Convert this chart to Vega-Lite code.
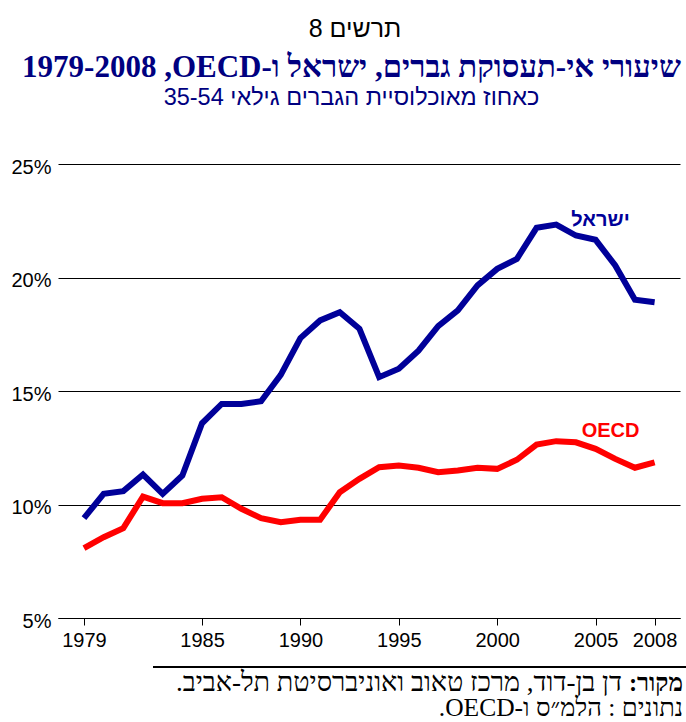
{
  "$schema": "https://vega.github.io/schema/vega-lite/v6.json",
  "padding": {"left": 10, "top": 16, "right": 0, "bottom": 0},
  "background": "white",
  "title": {"text": "\u202bתרשים 8\u202c", "font": "Liberation Sans", "fontSize": 25, "fontWeight": "normal", "color": "black", "anchor": "middle", "frame": "bounds", "offset": 10, "dx": 6},
  "spacing": 16,
  "config": {"view": {"stroke": null}, "font": "Liberation Sans"},
  "datasets": {
    "series": [
      {"year": 1979, "series": "ישראל", "value": 9.40},
      {"year": 1980, "series": "ישראל", "value": 10.47},
      {"year": 1981, "series": "ישראל", "value": 10.59},
      {"year": 1982, "series": "ישראל", "value": 11.32},
      {"year": 1983, "series": "ישראל", "value": 10.47},
      {"year": 1984, "series": "ישראל", "value": 11.28},
      {"year": 1985, "series": "ישראל", "value": 13.58},
      {"year": 1986, "series": "ישראל", "value": 14.43},
      {"year": 1987, "series": "ישראל", "value": 14.43},
      {"year": 1988, "series": "ישראל", "value": 14.55},
      {"year": 1989, "series": "ישראל", "value": 15.71},
      {"year": 1990, "series": "ישראל", "value": 17.33},
      {"year": 1991, "series": "ישראל", "value": 18.11},
      {"year": 1992, "series": "ישראל", "value": 18.47},
      {"year": 1993, "series": "ישראל", "value": 17.74},
      {"year": 1994, "series": "ישראל", "value": 15.61},
      {"year": 1995, "series": "ישראל", "value": 15.98},
      {"year": 1996, "series": "ישראל", "value": 16.78},
      {"year": 1997, "series": "ישראל", "value": 17.86},
      {"year": 1998, "series": "ישראל", "value": 18.55},
      {"year": 1999, "series": "ישראל", "value": 19.65},
      {"year": 2000, "series": "ישראל", "value": 20.38},
      {"year": 2001, "series": "ישראל", "value": 20.82},
      {"year": 2002, "series": "ישראל", "value": 22.19},
      {"year": 2003, "series": "ישראל", "value": 22.33},
      {"year": 2004, "series": "ישראל", "value": 21.85},
      {"year": 2005, "series": "ישראל", "value": 21.66},
      {"year": 2006, "series": "ישראל", "value": 20.53},
      {"year": 2007, "series": "ישראל", "value": 19.02},
      {"year": 2008, "series": "ישראל", "value": 18.91},
      {"year": 1979, "series": "OECD", "value": 8.08},
      {"year": 1980, "series": "OECD", "value": 8.56},
      {"year": 1981, "series": "OECD", "value": 8.96},
      {"year": 1982, "series": "OECD", "value": 10.35},
      {"year": 1983, "series": "OECD", "value": 10.06},
      {"year": 1984, "series": "OECD", "value": 10.06},
      {"year": 1985, "series": "OECD", "value": 10.25},
      {"year": 1986, "series": "OECD", "value": 10.32},
      {"year": 1987, "series": "OECD", "value": 9.81},
      {"year": 1988, "series": "OECD", "value": 9.40},
      {"year": 1989, "series": "OECD", "value": 9.22},
      {"year": 1990, "series": "OECD", "value": 9.33},
      {"year": 1991, "series": "OECD", "value": 9.33},
      {"year": 1992, "series": "OECD", "value": 10.54},
      {"year": 1993, "series": "OECD", "value": 11.13},
      {"year": 1994, "series": "OECD", "value": 11.64},
      {"year": 1995, "series": "OECD", "value": 11.72},
      {"year": 1996, "series": "OECD", "value": 11.62},
      {"year": 1997, "series": "OECD", "value": 11.42},
      {"year": 1998, "series": "OECD", "value": 11.50},
      {"year": 1999, "series": "OECD", "value": 11.62},
      {"year": 2000, "series": "OECD", "value": 11.57},
      {"year": 2001, "series": "OECD", "value": 11.97},
      {"year": 2002, "series": "OECD", "value": 12.64},
      {"year": 2003, "series": "OECD", "value": 12.79},
      {"year": 2004, "series": "OECD", "value": 12.74},
      {"year": 2005, "series": "OECD", "value": 12.45},
      {"year": 2006, "series": "OECD", "value": 12.01},
      {"year": 2007, "series": "OECD", "value": 11.62},
      {"year": 2008, "series": "OECD", "value": 11.86}
    ],
    "footer": [
      {"line": "1", "part": "b", "text": "מקור:\u200f"},
      {"line": "1", "part": "r", "text": "דן בן-דוד, מרכז טאוב ואוניברסיטת תל-אביב.\u200f"},
      {"line": "2", "part": "r2", "text": "\u202bנתונים : הלמ״ס ו-OECD.\u202c"}
    ]
  },
  "vconcat": [
    {
      "width": 622,
      "height": 454,
      "title": {
        "text": "\u202bשיעורי אי-תעסוקת גברים, ישראל ו-OECD\u200f, 1979-2008\u202c",
        "font": "Liberation Serif", "fontSize": 31, "fontWeight": "bold", "color": "#000080",
        "subtitle": "\u202bכאחוז מאוכלוסיית הגברים גילאי 35-54\u202c",
        "subtitleFont": "Liberation Sans", "subtitleFontSize": 23.5, "subtitleColor": "#000080",
        "subtitlePadding": 2, "anchor": "middle", "frame": "bounds", "offset": 47, "dx": 6
      },
      "layer": [
        {
          "data": {"name": "series"},
          "mark": {"type": "line", "strokeWidth": 6, "strokeJoin": "miter", "clip": false},
          "encoding": {
            "x": {
              "field": "year", "type": "quantitative",
              "scale": {"domain": [1977.68, 2009.29], "nice": false, "zero": false},
              "axis": {
                "values": [1979, 1985, 1990, 1995, 2000, 2005, 2008], "format": "d", "title": null,
                "grid": false, "domain": true, "domainColor": "black", "domainWidth": 1,
                "ticks": true, "tickColor": "black", "tickSize": 7, "tickWidth": 1,
                "labelFont": "Liberation Sans", "labelFontSize": 20, "labelColor": "black",
                "labelPadding": 5, "labelFlush": false, "labelOverlap": false
              }
            },
            "y": {
              "field": "value", "type": "quantitative",
              "scale": {"domain": [5, 25], "nice": false, "zero": false},
              "axis": {
                "values": [5, 10, 15, 20, 25], "labelExpr": "datum.value + '%'", "title": null,
                "grid": true, "gridColor": "black", "gridWidth": 1, "gridOpacity": 1,
                "domain": false, "ticks": false, "tickSize": 0,
                "labelFont": "Liberation Sans", "labelFontSize": 20, "labelColor": "black",
                "labelPadding": 7, "labelOffset": 3
              }
            },
            "color": {
              "field": "series", "type": "nominal",
              "scale": {"domain": ["ישראל", "OECD"], "range": ["#000099", "#FF0000"]},
              "legend": null
            }
          }
        },
        {
          "data": {"values": [{"label": "ישראל"}]},
          "mark": {"type": "text", "font": "Liberation Sans", "fontWeight": "bold", "fontSize": 20},
          "encoding": {
            "x": {"datum": 2005.25},
            "y": {"datum": 22.53},
            "text": {"field": "label"},
            "color": {"datum": "ישראל"}
          }
        },
        {
          "data": {"values": [{"label": "OECD"}]},
          "mark": {"type": "text", "font": "Liberation Sans", "fontWeight": "bold", "fontSize": 20},
          "encoding": {
            "x": {"datum": 2005.76},
            "y": {"datum": 13.24},
            "text": {"field": "label"},
            "color": {"datum": "OECD"}
          }
        }
      ]
    },
    {
      "width": 628,
      "height": 52,
      "data": {"name": "footer"},
      "view": {"stroke": "black", "strokeWidth": 2, "strokeDash": [0, 95, 533, 3000]},
      "layer": [
        {
          "transform": [{"filter": "datum.part == 'b'"}],
          "mark": {"type": "text", "font": "Liberation Serif", "fontWeight": "bold", "fontSize": 24.5, "align": "right", "baseline": "alphabetic", "dx": -3, "color": "black"},
          "encoding": {
            "x": {"value": "width"},
            "y": {"field": "line", "type": "ordinal", "scale": {"type": "point", "range": [24, 49], "padding": 0}, "axis": null},
            "text": {"field": "text"}
          }
        },
        {
          "transform": [{"filter": "datum.part == 'r'"}],
          "mark": {"type": "text", "font": "Liberation Serif", "fontWeight": "normal", "fontSize": 27, "align": "right", "baseline": "alphabetic", "dx": -64, "color": "black"},
          "encoding": {
            "x": {"value": "width"},
            "y": {"field": "line", "type": "ordinal"},
            "text": {"field": "text"}
          }
        },
        {
          "transform": [{"filter": "datum.part == 'r2'"}],
          "mark": {"type": "text", "font": "Liberation Serif", "fontWeight": "normal", "fontSize": 25.5, "align": "right", "baseline": "alphabetic", "dx": -3, "color": "black"},
          "encoding": {
            "x": {"value": "width"},
            "y": {"field": "line", "type": "ordinal"},
            "text": {"field": "text"}
          }
        }
      ]
    }
  ]
}
